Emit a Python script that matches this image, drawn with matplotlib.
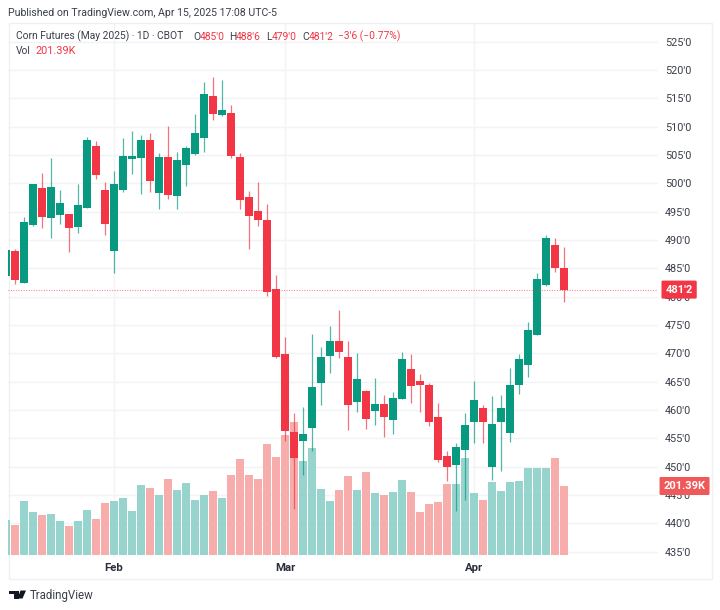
import numpy as np
import matplotlib
matplotlib.use("Agg")
import matplotlib.pyplot as plt
from matplotlib.patches import Rectangle, Polygon
from matplotlib.transforms import blended_transform_factory

opens = [483.6, 488.0, 482.5, 492.6, 499.1, 493.8, 494.4, 494.6, 492.3, 495.6, 506.6, 498.8, 488.1, 498.9, 504.3, 504.5,
         507.6, 498.3, 504.6, 497.7, 503.2, 505.2, 508.0, 515.4, 512.1, 512.4, 504.6, 497.6, 495.1, 493.6, 481.4, 469.9,
         456.1, 454.5, 456.9, 464.7, 469.5, 472.1, 469.3, 461.5, 463.3, 459.9, 461.1, 458.2, 462.0, 467.2, 465.1, 464.5,
         458.8, 451.8, 450.3, 453.0, 457.8, 460.3, 450.0, 457.8, 456.0, 464.5, 468.0, 473.2, 482.1, 489.1, 485.1]
highs = [489.0, 488.4, 494.1, 499.9, 501.8, 504.4, 498.8, 494.6, 499.9, 508.1, 507.4, 500.2, 502.1, 508.0, 509.2, 508.6,
         508.8, 505.3, 510.1, 505.6, 506.6, 512.2, 517.8, 518.8, 518.2, 513.9, 505.3, 498.6, 500.2, 496.4, 483.8, 472.8,
         459.4, 460.6, 473.5, 471.1, 474.8, 477.6, 472.1, 470.1, 463.6, 465.6, 462.6, 463.1, 470.3, 469.9, 466.4, 464.8,
         461.2, 452.8, 454.1, 459.4, 465.1, 460.8, 462.4, 462.6, 467.5, 469.8, 475.6, 484.1, 490.9, 490.4, 488.8]
lows = [483.0, 482.2, 482.5, 492.4, 492.1, 490.4, 492.8, 487.9, 491.2, 495.6, 500.8, 490.9, 484.1, 498.4, 501.7, 498.2,
        498.4, 495.4, 497.3, 495.4, 499.6, 505.0, 505.6, 511.1, 511.9, 504.4, 495.4, 488.5, 492.4, 480.1, 469.1, 454.6,
        442.6, 448.5, 452.8, 460.9, 466.6, 469.1, 456.4, 459.6, 456.6, 457.3, 455.3, 455.8, 462.0, 461.3, 459.6, 457.1,
        450.8, 447.4, 442.1, 444.1, 454.1, 454.1, 447.6, 449.3, 454.4, 462.8, 465.8, 473.2, 481.9, 484.4, 479.0]
closes = [488.2, 483.0, 493.1, 499.9, 494.1, 499.4, 496.6, 492.2, 496.1, 507.6, 501.5, 492.9, 499.9, 504.8, 504.8, 507.6,
          500.5, 504.6, 498.0, 504.1, 506.2, 508.9, 515.8, 512.3, 512.9, 504.9, 497.1, 494.2, 493.5, 480.9, 469.4, 456.3,
          451.5, 455.8, 464.1, 469.3, 472.1, 470.2, 460.8, 465.4, 458.5, 461.1, 458.7, 462.1, 469.0, 464.2, 464.4, 457.8,
          451.2, 450.0, 453.4, 457.3, 461.8, 457.8, 457.5, 460.3, 464.5, 469.0, 474.1, 483.1, 490.3, 485.1, 481.25]
volumes = [102.2, 87.6, 157.6, 124.5, 116.8, 119.7, 99.2, 85.6, 99.2, 131.4, 104.1, 151.8, 157.6, 166.4, 128.4, 203.4,
           195.6, 174.2, 220.9, 189.7, 210.2, 160.5, 174.2, 185.8, 166.4, 234.5, 279.3, 232.5, 220.9, 323.0, 286.1, 350.3,
           387.3, 274.4, 311.4, 191.7, 157.6, 189.7, 230.6, 189.7, 241.3, 180.0, 176.1, 184.9, 218.9, 182.9, 126.5, 148.9,
           155.7, 207.2, 207.2, 282.2, 180.0, 160.5, 212.1, 186.8, 212.1, 216.0, 254.9, 254.9, 254.9, 282.2, 201.39]
month_labels = ["Feb", "Mar", "Apr"]
month_positions = [12, 31, 52]
price_ticks = list(range(435, 530, 5))
last_close_label = "481'2"
last_volume_label = "201.39K"

UP, DOWN = "#089981", "#F23645"
UP_VOL, DOWN_VOL = "#92D2CC", "#F7A9A7"
GRID = "#F2F3F6"
TXT = "#3A3E49"
FONT = "Roboto"
plt.rcParams["font.family"] = [FONT, "DejaVu Sans"]

W, H = 720, 610
fig = plt.figure(figsize=(W / 100, H / 100), dpi=100, facecolor="white")


def px(x, y):
    return x / W, 1 - y / H


def text_px(x, y, s, color=TXT, size=7.4, **kw):
    fx, fy = px(x, y)
    fig.text(fx, fy, s, color=color, fontsize=size, va="center", ha=kw.pop("ha", "left"), **kw)


L, R, T, B = 8, 658, 23, 558
pos = [L / W, 1 - B / H, (R - L) / W, (B - T) / H]
x = np.arange(len(closes))
xlim = ((L - 6) / 9, (R - 6) / 9)
ylim = (520 - (B - 70) / 5.667, 520 + (70 - T) / 5.667)
vol_per_px = 201.39 / 69
vlim = (-(B - 555) * vol_per_px, (555 - T) * vol_per_px)

# frame
fig.add_artist(Rectangle(px(8.5, 579), 703 / W, 556 / H, transform=fig.transFigure,
                         fill=False, edgecolor="#EEF0F4", linewidth=1))

# base: grid and tick labels
base = fig.add_axes(pos, zorder=0)
base.set_xlim(xlim)
base.set_ylim(ylim)
base.set_yticks(price_ticks)
base.set_yticklabels([f"{p}'0" for p in price_ticks])
base.yaxis.tick_right()
base.set_xticks(month_positions)
base.set_xticklabels(month_labels, fontweight="bold")
base.tick_params(axis="y", length=0, pad=4.8, labelsize=7.8, labelcolor=TXT)
base.tick_params(axis="x", length=0, pad=3.5, labelsize=8.2, labelcolor="#2A2E39")
base.grid(True, color=GRID, linewidth=1)
base.set_axisbelow(True)
for s in base.spines.values():
    s.set_visible(False)

# volume
up = np.array(closes) >= np.array(opens)
vol = fig.add_axes(pos, zorder=1, sharex=base)
vol.patch.set_alpha(0)
vol.set_ylim(vlim)
vol.bar(x, volumes, width=0.92, color=[UP_VOL if u else DOWN_VOL for u in up], linewidth=0, alpha=0.95)
vol.axis("off")
btrans = blended_transform_factory(vol.transAxes, vol.transData)
vol.text(1.0085, volumes[-1], last_volume_label, transform=btrans, color="white", fontsize=8.0,
         fontweight="bold", va="center", ha="left", clip_on=False, zorder=10,
         bbox=dict(boxstyle="round,pad=0.36,rounding_size=0.1", fc="#F0595A", ec="none"))

# candles
ax = fig.add_axes(pos, zorder=2, sharex=base, sharey=base)
ax.patch.set_alpha(0)
colors = [UP if u else DOWN for u in up]
ax.vlines(x, lows, highs, colors=colors, linewidth=0.9, alpha=0.7)
ax.bar(x, np.abs(np.array(closes) - np.array(opens)), bottom=np.minimum(opens, closes), width=0.8,
       color=colors, linewidth=0)
ax.axhline(closes[-1], color=DOWN, linewidth=0.7, linestyle=(0, (1, 1.6)), alpha=0.7)
ax.axis("off")
ptrans = blended_transform_factory(ax.transAxes, ax.transData)
ax.text(1.0115, closes[-1], last_close_label, transform=ptrans, color="white", fontsize=8.0,
        fontweight="bold", va="center", ha="left", clip_on=False, zorder=10,
        bbox=dict(boxstyle="round,pad=0.36,rounding_size=0.1", fc=DOWN, ec="none"))

# header
text_px(8.5, 13.5, "Published on TradingView.com, Apr 15, 2025 17:08 UTC-5", size=7.55)
text_px(15.5, 36.5, "Corn Futures (May 2025) · 1D · CBOT")
for xp, s, c in [(193, "O", TXT), (200, "485'0", DOWN), (229, "H", TXT), (236, "488'6", DOWN),
                 (266, "L", TXT), (272, "479'0", DOWN), (302, "C", TXT), (309, "481'2", DOWN),
                 (338, "−3'6 (−0.77%)", DOWN)]:
    text_px(xp, 36.5, s, color=c)
text_px(15.5, 51, "Vol")
text_px(36, 51, "201.39K", color=DOWN, size=7.8)

# logo
LOGO = "#131722"
fig.add_artist(Polygon([px(8.5, 590.5), px(18.5, 590.5), px(18.5, 598.5), px(14, 598.5), px(14, 594), px(8.5, 594)],
                       closed=True, transform=fig.transFigure, fc=LOGO, ec="none"))
fig.add_artist(Polygon([px(20.5, 590.5), px(26, 590.5), px(22.5, 598.5), px(17.5, 598.5)],
                       closed=True, transform=fig.transFigure, fc=LOGO, ec="none"))
text_px(29.5, 595, "TradingView", size=8.3, )

fig.savefig("out.png", dpi=100, facecolor="white")
